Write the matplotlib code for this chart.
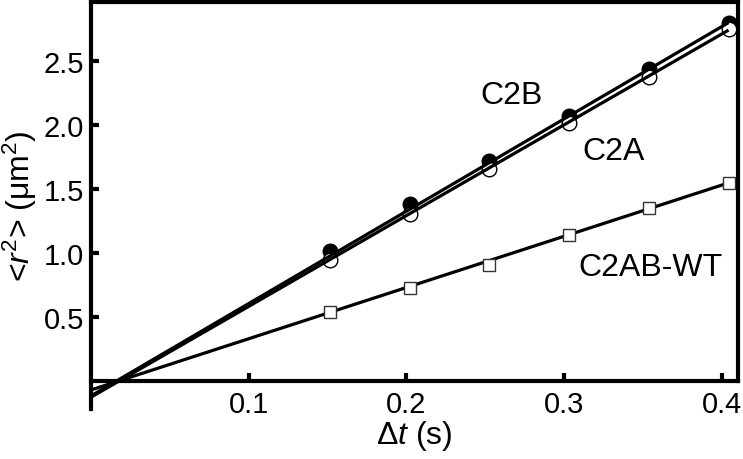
import matplotlib
matplotlib.use("Agg")
import matplotlib.pyplot as plt
import numpy as np

plt.rcParams['font.family'] = ['Liberation Sans', 'DejaVu Sans']
plt.rcParams['mathtext.fontset'] = 'custom'
plt.rcParams['mathtext.rm'] = 'Liberation Sans'
plt.rcParams['mathtext.it'] = 'Liberation Sans:italic'

# data
dt = [0.1515, 0.202, 0.2525, 0.303, 0.3535, 0.404]
c2b = [1.02, 1.385, 1.72, 2.07, 2.44, 2.80]
c2b_err = [0.02, 0.02, 0.02, 0.03, 0.03, 0.04]
c2a = [0.945, 1.307, 1.66, 2.02, 2.38, 2.75]
c2a_err = [0.02, 0.02, 0.02, 0.02, 0.03, 0.03]
wt = [0.54, 0.73, 0.91, 1.14, 1.355, 1.55]
wt_err = [0.01, 0.01, 0.01, 0.02, 0.02, 0.02]

# linear fit parameters (slope, intercept)
fit_c2b = (7.22, -0.115)
fit_c2a = (7.10, -0.125)
fit_wt = (4.005, -0.068)

labels = ['C2B', 'C2A', 'C2AB-WT']
label_pos = [(0.2667, 2.24), (0.331, 1.80), (0.3545, 0.89)]
xticks = [0.1, 0.2, 0.3, 0.4]
yticks = [0.5, 1.0, 1.5, 2.0, 2.5]

fig = plt.figure(figsize=(7.43, 4.60), dpi=100)
ax = fig.add_axes([0.1221, 0.1087, 0.9933 - 0.1221, 0.9935 - 0.1087])
ax.set_xlim(0, 0.41)
ax.set_ylim(-0.216, 2.963)

ax.errorbar(dt, c2b, yerr=c2b_err, fmt='o', ms=10.5, mfc='black', mec='black',
            ecolor='black', elinewidth=1, capsize=3, zorder=2)
ax.errorbar(dt, c2a, yerr=c2a_err, fmt='o', ms=10.5, mfc='white', mec='black',
            mew=1.0, ecolor='black', elinewidth=1, capsize=3, zorder=2)

xf = np.array([0.0, dt[-1]])
for (m, b) in (fit_c2b, fit_c2a, fit_wt):
    ax.plot(xf, m * xf + b, color='black', lw=2.3, zorder=3, solid_capstyle='butt')

ax.errorbar(dt, wt, yerr=wt_err, fmt='s', ms=9, mfc='white', mec='#333333',
            mew=1.0, ecolor='black', elinewidth=1, capsize=3, zorder=4)

for lab, (x, y) in zip(labels, label_pos):
    ax.text(x, y, lab, fontsize=23, ha='center', va='center')

for s in ['left', 'top', 'right', 'bottom']:
    ax.spines[s].set_linewidth(3)
ax.spines['bottom'].set_position(('data', 0))
ax.spines['right'].set_bounds(0, 2.963)

ax.set_xticks(xticks)
ax.set_xticklabels([f'{v:.1f}' for v in xticks])
ax.set_yticks(yticks)
ax.set_yticklabels([f'{v:.1f}' for v in yticks])
ax.tick_params(direction='in', length=6, width=3, labelsize=21, pad=5)
ax.tick_params(axis='x', pad=6)

ax.set_xlabel(r'$\Delta\it{t}$ (s)', fontsize=23, labelpad=0)
ax.set_ylabel(r'<$\it{r}^2$> (μm$^2$)', fontsize=23, labelpad=3)

fig.savefig('out.png', dpi=100)
